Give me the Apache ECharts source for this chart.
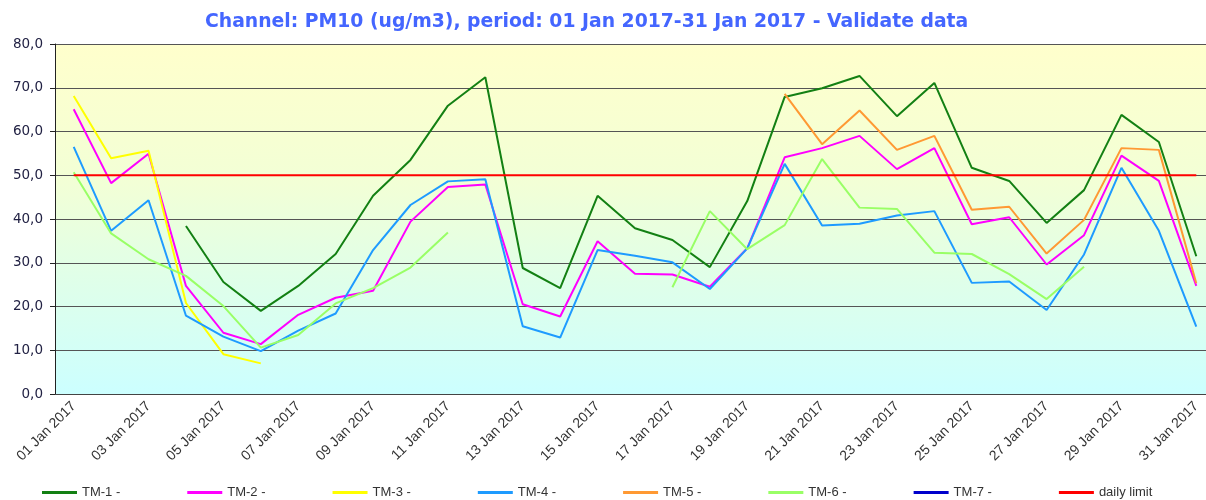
<!DOCTYPE html>
<html>
<head>
<meta charset="utf-8">
<script src="https://cdn.jsdelivr.net/npm/echarts@6/dist/echarts.min.js"></script>
<style>
  html, body { margin: 0; padding: 0; background: #fff; overflow: hidden; }
  #chart { width: 1216px; height: 500px; }
</style>
</head>
<body>
<div id="chart"></div>
<script>
const days = []
for (let d = 1; d <= 31; d++) {
  days.push((d < 10 ? '0' + d : '' + d) + ' Jan 2017')
}

const tm1 = [null, null, null, 38.4, 25.6, 19.0, 24.7, 32.0, 45.3, 53.5, 65.9, 72.4, 28.8, 24.2, 45.3, 37.9,
  35.2, 29.0, 44.1, 67.9, 69.9, 72.7, 63.5, 71.1, 51.7, 48.7, 39.1, 46.6, 63.8, 57.6, 31.5]
const tm2 = [65.1, 48.2, 54.9, 24.7, 14.0, 11.4, 18.1, 22.0, 23.6, 39.4, 47.3, 47.9, 20.5, 17.7, 34.9, 27.5,
  27.3, 24.5, 33.3, 54.1, 56.2, 59.0, 51.4, 56.2, 38.8, 40.4, 29.6, 36.3, 54.5, 48.7, 24.7]
const tm3 = [68.1, 53.9, 55.6, 20.8, 9.1, 7.0, null, null, null, null, null, null, null, null, null, null,
  null, null, null, null, null, null, null, null, null, null, null, null, null, null, null]
const tm4 = [56.5, 37.3, 44.3, 17.9, 13.1, 9.8, 14.5, 18.4, 32.9, 43.2, 48.6, 49.1, 15.5, 12.9, 32.9, 31.6,
  30.1, 24.0, 33.3, 52.6, 38.5, 38.9, 40.8, 41.8, 25.4, 25.7, 19.2, 31.9, 51.7, 37.3, 15.4]
const tm5 = [null, null, null, null, null, null, null, null, null, null, null, null, null, null, null, null,
  null, null, null, 68.6, 57.1, 64.8, 55.8, 59.0, 42.1, 42.8, 32.1, 39.8, 56.2, 55.8, 25.3]
const tm6 = [50.7, 36.7, 30.8, 27.0, 20.1, 10.6, 13.5, 20.7, 24.2, 28.9, 36.9, null, null, null, null, null,
  24.4, 41.8, 33.1, 38.6, 53.7, 42.6, 42.3, 32.3, 32.0, 27.4, 21.7, 29.1, null, null, null]
const tm7 = []
const dailyLimit = days.map(() => 50)

const names = ['TM-1 -', 'TM-2 -', 'TM-3 -', 'TM-4 -', 'TM-5 -', 'TM-6 -', 'TM-7 -', 'daily limit']
const colors = ['#138013', '#ff00ff', '#ffff00', '#1e9bff', '#ff9933', '#99ff66', '#0000cc', '#ff0000']
const values = [tm1, tm2, tm3, tm4, tm5, tm6, tm7, dailyLimit]

const chart = echarts.init(document.getElementById('chart'))

chart.setOption({
  animation: false,
  title: {
    text: 'Channel: PM10 (ug/m3), period: 01 Jan 2017-31 Jan 2017 - Validate data',
    left: 200,
    top: 8,
    textStyle: {
      color: '#4466ff',
      fontFamily: 'DejaVu Sans',
      fontWeight: 'bold',
      fontSize: 18.8
    }
  },
  legend: {
    left: 42,
    top: 486,
    padding: 0,
    icon: 'rect',
    itemWidth: 35,
    itemHeight: 3,
    itemGap: 67,
    textStyle: {
      color: '#333',
      fontFamily: 'Liberation Sans',
      fontSize: 13
    },
    data: names
  },
  grid: {
    left: 55,
    top: 44,
    width: 1160,
    height: 350,
    show: true,
    borderWidth: 0,
    backgroundColor: new echarts.graphic.LinearGradient(0, 0, 0, 1, [
      { offset: 0, color: '#ffffcc' },
      { offset: 0.4, color: '#f2ffd6' },
      { offset: 0.6, color: '#e4ffe4' },
      { offset: 1, color: '#ccffff' }
    ])
  },
  xAxis: {
    type: 'category',
    data: days,
    boundaryGap: true,
    axisLine: { lineStyle: { color: '#444', width: 1 } },
    axisTick: { interval: 0, length: 5, lineStyle: { color: '#222' } },
    axisLabel: {
      interval: 1,
      rotate: 45,
      margin: 10,
      color: '#333',
      fontFamily: 'Liberation Sans',
      fontSize: 14
    },
    splitLine: { show: false }
  },
  yAxis: {
    type: 'value',
    min: 0,
    max: 80,
    interval: 10,
    axisLine: { show: true, lineStyle: { color: '#222', width: 1 } },
    axisTick: { show: true, length: 5, lineStyle: { color: '#222' } },
    axisLabel: {
      margin: 12,
      color: '#222244',
      fontFamily: 'DejaVu Sans',
      fontSize: 13.5,
      formatter: v => v.toFixed(1).replace('.', ',')
    },
    splitLine: { lineStyle: { color: '#555', width: 1 } }
  },
  series: names.map((name, i) => ({
    name,
    type: 'line',
    data: values[i],
    showSymbol: false,
    connectNulls: false,
    color: colors[i],
    lineStyle: { width: 2, color: colors[i] }
  }))
})
</script>
</body>
</html>
